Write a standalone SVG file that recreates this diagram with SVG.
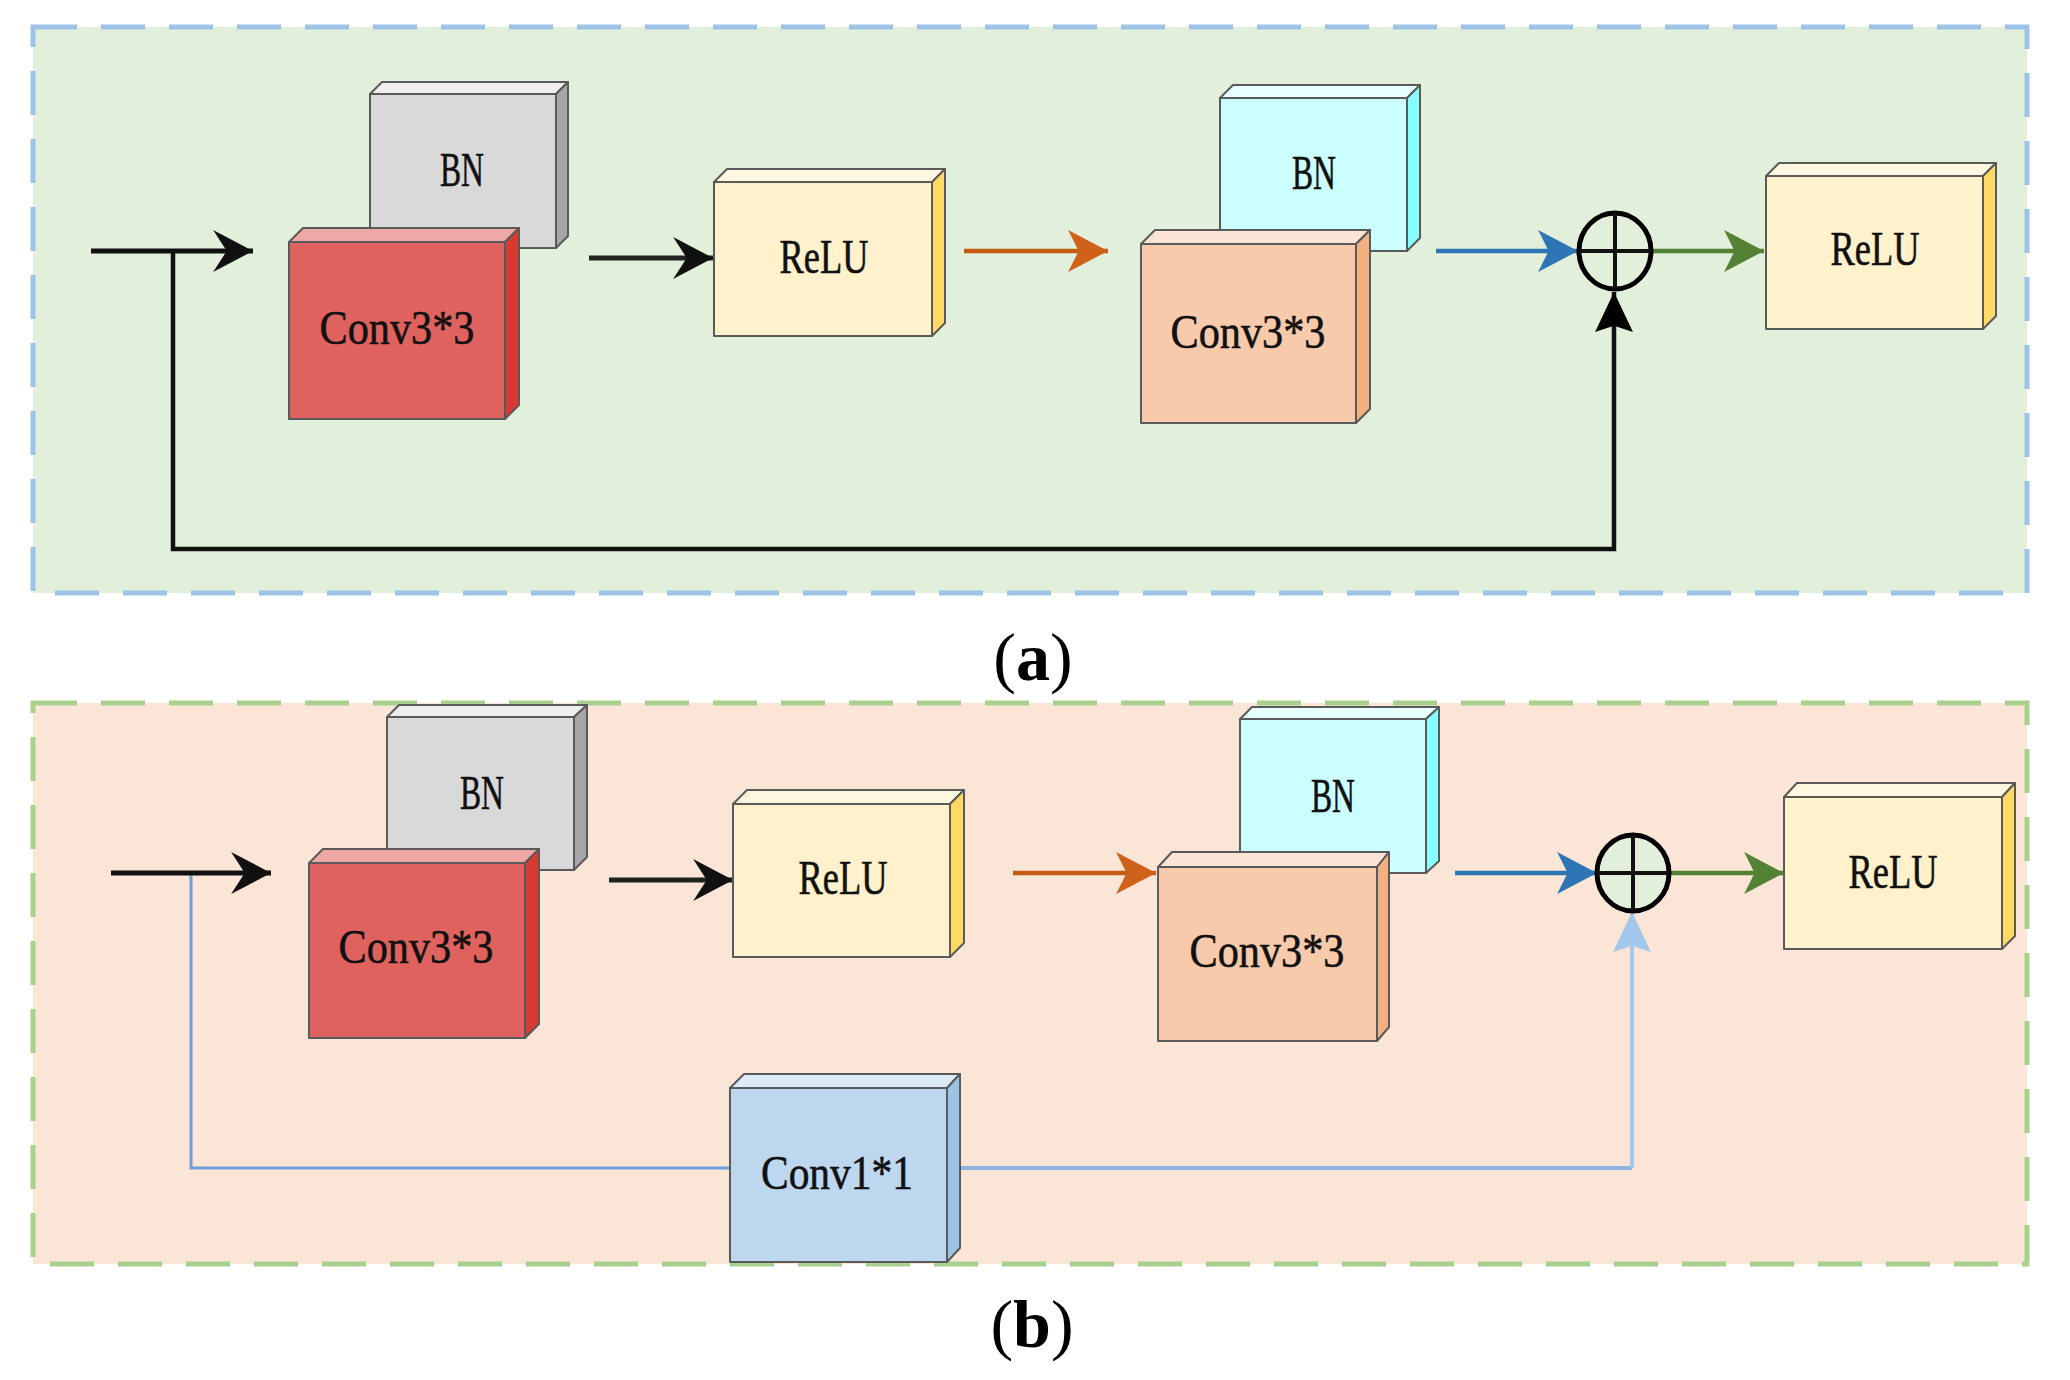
<svg xmlns="http://www.w3.org/2000/svg" width="2070" height="1380" viewBox="0 0 2070 1380">
<style>
.lbl{font-family:"Liberation Serif","Times New Roman",serif;font-size:49px;fill:#111;stroke:#111;stroke-width:0.6;text-anchor:middle}
.cap{font-family:"Liberation Serif","Times New Roman",serif;font-size:68px;fill:#000;text-anchor:middle}
.bx{stroke:#5a5a5a;stroke-width:2;stroke-linejoin:round}
.g .f{fill:#d9d9d9}.g .t{fill:#eeeeee}.g .s{fill:#a6a6a6}
.r .f{fill:#e0625e}.r .t{fill:#eea8a6}.r .s{fill:#d63a33}
.y .f{fill:#fff1cc}.y .t{fill:#fff7e0}.y .s{fill:#ffd966}
.c .f{fill:#ccffff}.c .t{fill:#e6ffff}.c .s{fill:#88ffff}
.p .f{fill:#f7caac}.p .t{fill:#fbe3d5}.p .s{fill:#f3b07f}
.b .f{fill:#bdd7ee}.b .t{fill:#dcebf7}.b .s{fill:#9cc2e5}
.ln{fill:none;stroke-linejoin:miter}
.sum{fill:#e2efda;stroke:#000;stroke-width:5}
.sumx{stroke:#111;stroke-width:4}
</style>
<defs>
<marker id="mk" markerUnits="userSpaceOnUse" markerWidth="40" markerHeight="42" viewBox="0 0 38 40" refX="38" refY="20" orient="auto"><path d="M0,0 L38,20 L0,40 L13,20 Z" fill="#111"/></marker>
<marker id="mo" markerUnits="userSpaceOnUse" markerWidth="40" markerHeight="42" viewBox="0 0 38 40" refX="38" refY="20" orient="auto"><path d="M0,0 L38,20 L0,40 L10,20 Z" fill="#d0611a"/></marker>
<marker id="mb" markerUnits="userSpaceOnUse" markerWidth="40" markerHeight="42" viewBox="0 0 38 40" refX="38" refY="20" orient="auto"><path d="M0,0 L38,20 L0,40 L10,20 Z" fill="#2e75b6"/></marker>
<marker id="mg" markerUnits="userSpaceOnUse" markerWidth="40" markerHeight="42" viewBox="0 0 38 40" refX="38" refY="20" orient="auto"><path d="M0,0 L38,20 L0,40 L10,20 Z" fill="#548235"/></marker>
<marker id="mu" markerUnits="userSpaceOnUse" markerWidth="40" markerHeight="38" viewBox="0 0 38 36" refX="38" refY="18" orient="auto"><path d="M0,0 L38,18 L0,36 L6,18 Z" fill="#000"/></marker>
<marker id="ml" markerUnits="userSpaceOnUse" markerWidth="40" markerHeight="38" viewBox="0 0 38 36" refX="38" refY="18" orient="auto"><path d="M0,0 L38,18 L0,36 L6,18 Z" fill="#a4c7ec"/></marker>
</defs>

<g id="panel-a">
<rect x="33" y="27" width="1994" height="566" fill="#e2efda" stroke="#9dc3e6" stroke-width="5" stroke-dasharray="44 24"/>
</g>
<g id="panel-b">
<rect x="33" y="703" width="1994" height="561" fill="#fbe5d6" stroke="#a9d18e" stroke-width="5" stroke-dasharray="44 24"/>
</g>

<g id="connectors">
<!-- panel a -->
<path class="ln" d="M173,251 V549 H1614 V292" stroke="#111" stroke-width="4.5" marker-end="url(#mu)"/>
<line x1="91" y1="251" x2="253" y2="251" stroke="#111" stroke-width="5" marker-end="url(#mk)"/>
<line x1="589" y1="258" x2="713" y2="258" stroke="#222" stroke-width="5" marker-end="url(#mk)"/>
<line x1="964" y1="251" x2="1108" y2="251" stroke="#c55a11" stroke-width="4.5" marker-end="url(#mo)"/>
<line x1="1436" y1="251" x2="1578" y2="251" stroke="#2e75b6" stroke-width="4.5" marker-end="url(#mb)"/>
<line x1="1652" y1="251" x2="1764" y2="251" stroke="#548235" stroke-width="4.5" marker-end="url(#mg)"/>
<!-- panel b -->
<path class="ln" d="M191,873 V1168 H730" stroke="#6c9fd6" stroke-width="3"/>
<path class="ln" d="M947,1168 H1632" stroke="#8db4e2" stroke-width="4"/>
<path class="ln" d="M1632,1168 V912" stroke="#a4c7ec" stroke-width="4" marker-end="url(#ml)"/>
<line x1="111" y1="873" x2="271" y2="873" stroke="#111" stroke-width="5" marker-end="url(#mk)"/>
<line x1="609" y1="880" x2="733" y2="880" stroke="#222" stroke-width="5" marker-end="url(#mk)"/>
<line x1="1013" y1="873" x2="1156" y2="873" stroke="#c55a11" stroke-width="4.5" marker-end="url(#mo)"/>
<line x1="1455" y1="873" x2="1597" y2="873" stroke="#2e75b6" stroke-width="4.5" marker-end="url(#mb)"/>
<line x1="1670" y1="873" x2="1784" y2="873" stroke="#548235" stroke-width="4.5" marker-end="url(#mg)"/>
</g>

<!-- Panel a nodes -->
<g id="a-bn1" class="g bx">
<polygon class="t" points="370,94 382,82 568,82 556,94"/>
<polygon class="s" points="556,94 568,82 568,236 556,248"/>
<rect class="f" x="370" y="94" width="186" height="154"/>
<text class="lbl" x="462" y="186" textLength="44" lengthAdjust="spacingAndGlyphs">BN</text>
</g>
<g id="a-conv1" class="r bx">
<polygon class="t" points="289,242 303,228 519,228 505,242"/>
<polygon class="s" points="505,242 519,228 519,405 505,419"/>
<rect class="f" x="289" y="242" width="216" height="177"/>
<text class="lbl" x="397" y="344" textLength="155" lengthAdjust="spacingAndGlyphs">Conv3*3</text>
</g>
<g id="a-relu1" class="y bx">
<polygon class="t" points="714,182 727,169 945,169 932,182"/>
<polygon class="s" points="932,182 945,169 945,323 932,336"/>
<rect class="f" x="714" y="182" width="218" height="154"/>
<text class="lbl" x="824" y="273" textLength="89" lengthAdjust="spacingAndGlyphs">ReLU</text>
</g>
<g id="a-bn2" class="c bx">
<polygon class="t" points="1220,98 1233,85 1420,85 1407,98"/>
<polygon class="s" points="1407,98 1420,85 1420,238 1407,251"/>
<rect class="f" x="1220" y="98" width="187" height="153"/>
<text class="lbl" x="1314" y="189" textLength="44" lengthAdjust="spacingAndGlyphs">BN</text>
</g>
<g id="a-conv2" class="p bx">
<polygon class="t" points="1141,244 1155,230 1370,230 1356,244"/>
<polygon class="s" points="1356,244 1370,230 1370,409 1356,423"/>
<rect class="f" x="1141" y="244" width="215" height="179"/>
<text class="lbl" x="1248" y="348" textLength="155" lengthAdjust="spacingAndGlyphs">Conv3*3</text>
</g>
<g id="a-sum">
<ellipse class="sum" cx="1615" cy="251" rx="36" ry="38"/>
<line class="sumx" x1="1579" y1="251" x2="1651" y2="251"/>
<line class="sumx" x1="1615" y1="213" x2="1615" y2="289"/>
</g>
<g id="a-relu2" class="y bx">
<polygon class="t" points="1766,176 1779,163 1996,163 1983,176"/>
<polygon class="s" points="1983,176 1996,163 1996,316 1983,329"/>
<rect class="f" x="1766" y="176" width="217" height="153"/>
<text class="lbl" x="1875" y="265" textLength="89" lengthAdjust="spacingAndGlyphs">ReLU</text>
</g>

<!-- Panel b nodes -->
<g id="b-bn1" class="g bx">
<polygon class="t" points="387,717 399,705 587,705 574,717"/>
<polygon class="s" points="574,717 587,705 587,857 574,870"/>
<rect class="f" x="387" y="717" width="187" height="153"/>
<text class="lbl" x="482" y="809" textLength="44" lengthAdjust="spacingAndGlyphs">BN</text>
</g>
<g id="b-conv1" class="r bx">
<polygon class="t" points="309,863 323,849 539,849 525,863"/>
<polygon class="s" points="525,863 539,849 539,1024 525,1038"/>
<rect class="f" x="309" y="863" width="216" height="175"/>
<text class="lbl" x="416" y="963" textLength="155" lengthAdjust="spacingAndGlyphs">Conv3*3</text>
</g>
<g id="b-relu1" class="y bx">
<polygon class="t" points="733,804 747,790 964,790 950,804"/>
<polygon class="s" points="950,804 964,790 964,943 950,957"/>
<rect class="f" x="733" y="804" width="217" height="153"/>
<text class="lbl" x="843" y="894" textLength="89" lengthAdjust="spacingAndGlyphs">ReLU</text>
</g>
<g id="b-conv11" class="b bx">
<polygon class="t" points="730,1088 744,1074 960,1074 947,1088"/>
<polygon class="s" points="947,1088 960,1074 960,1248 947,1262"/>
<rect class="f" x="730" y="1088" width="217" height="174"/>
<text class="lbl" x="837" y="1189" textLength="152" lengthAdjust="spacingAndGlyphs">Conv1*1</text>
</g>
<g id="b-bn2" class="c bx">
<polygon class="t" points="1240,719 1252,707 1439,707 1426,719"/>
<polygon class="s" points="1426,719 1439,707 1439,861 1426,873"/>
<rect class="f" x="1240" y="719" width="186" height="154"/>
<text class="lbl" x="1333" y="812" textLength="44" lengthAdjust="spacingAndGlyphs">BN</text>
</g>
<g id="b-conv2" class="p bx">
<polygon class="t" points="1158,867 1172,852 1389,852 1377,867"/>
<polygon class="s" points="1377,867 1389,852 1389,1027 1377,1041"/>
<rect class="f" x="1158" y="867" width="219" height="174"/>
<text class="lbl" x="1267" y="967" textLength="155" lengthAdjust="spacingAndGlyphs">Conv3*3</text>
</g>
<g id="b-sum">
<ellipse class="sum" cx="1633" cy="873" rx="36" ry="38"/>
<line class="sumx" x1="1597" y1="873" x2="1669" y2="873"/>
<line class="sumx" x1="1633" y1="835" x2="1633" y2="911"/>
</g>
<g id="b-relu2" class="y bx">
<polygon class="t" points="1784,797 1797,783 2015,783 2002,797"/>
<polygon class="s" points="2002,797 2015,783 2015,936 2002,949"/>
<rect class="f" x="1784" y="797" width="218" height="152"/>
<text class="lbl" x="1893" y="888" textLength="89" lengthAdjust="spacingAndGlyphs">ReLU</text>
</g>

<g id="captions">
<text class="cap" x="1033" y="680">(<tspan font-weight="bold">a</tspan>)</text>
<text class="cap" x="1032" y="1347">(<tspan font-weight="bold">b</tspan>)</text>
</g>
</svg>
